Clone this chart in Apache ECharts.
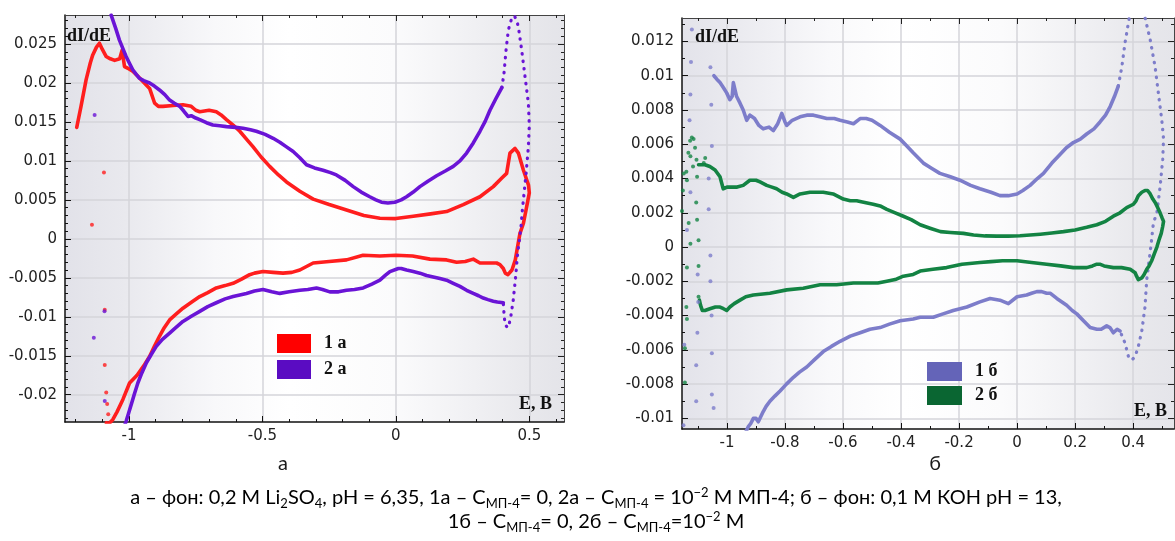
<!DOCTYPE html>
<html>
<head>
<meta charset="utf-8">
<script src="https://cdn.jsdelivr.net/npm/echarts@6/dist/echarts.min.js"></script>
<style>
  html, body { margin: 0; padding: 0; background: #fff; }
  #chart { width: 1175px; height: 541px; }
</style>
</head>
<body>
<div id="chart"></div>
<script>
// ---------- Panel а: background 0.2 M Li2SO4 ----------
const xTicksA = [-1, -0.5, 0, 0.5];
const yTicksA = [-0.02, -0.015, -0.01, -0.005, 0, 0.005, 0.01, 0.015, 0.02, 0.025];

// curve 1а, full loop [E, dI/dE]
const curve1a = [
  [-1.196,0.0143],[-1.18,0.0170],[-1.161,0.0204],[-1.145,0.0226],[-1.136,0.0236],[-1.122,0.0246],[-1.111,0.0251],
  [-1.1,0.0243],[-1.086,0.0234],[-1.07,0.0231],[-1.054,0.0229],[-1.035,0.0231],[-1.026,0.0242],[-1.017,0.0221],
  [-1.0,0.0218],[-0.986,0.0215],[-0.965,0.0208],[-0.948,0.0202],[-0.923,0.0193],[-0.904,0.0174],[-0.89,0.0170],
  [-0.873,0.0170],[-0.835,0.0171],[-0.798,0.0172],[-0.767,0.0170],[-0.75,0.0165],[-0.735,0.0163],[-0.7,0.0165],
  [-0.673,0.0163],[-0.655,0.0159],[-0.635,0.0153],[-0.61,0.0146],[-0.585,0.0138],[-0.56,0.0128],[-0.535,0.0118],
  [-0.505,0.0105],[-0.473,0.0093],[-0.44,0.0082],[-0.41,0.0073],[-0.36,0.0061],[-0.31,0.0051],[-0.25,0.0044],
  [-0.185,0.0037],[-0.12,0.0030],[-0.06,0.00265],[0,0.0026],[0.065,0.0029],[0.13,0.0032],[0.19,0.0035],
  [0.2525,0.0044],[0.315,0.0054],[0.365,0.0067],[0.397,0.0078],[0.415,0.0084],[0.4275,0.0110],[0.4465,0.0116],
  [0.459,0.0110],[0.478,0.0088],[0.497,0.0069],[0.5,0.0059],[0.49,0.0041],[0.478,0.0020],[0.465,0.0007],
  [0.455,-0.0012],[0.4475,-0.0027],[0.435,-0.0040],[0.42,-0.0046],[0.41,-0.0044],[0.4025,-0.0038],
  [0.39,-0.0033],[0.3775,-0.0031],[0.35,-0.0031],[0.315,-0.0031],[0.29,-0.0026],[0.26,-0.0029],[0.2275,-0.0030],
  [0.19,-0.0027],[0.1275,-0.0026],[0.0625,-0.0022],[0,-0.0021],[-0.06,-0.0022],[-0.123,-0.0021],[-0.185,-0.0027],
  [-0.25,-0.0029],[-0.31,-0.0031],[-0.36,-0.0040],[-0.39,-0.0043],[-0.423,-0.0044],[-0.46,-0.0043],[-0.498,-0.0042],
  [-0.53,-0.0044],[-0.548,-0.0046],[-0.58,-0.0052],[-0.61,-0.0057],[-0.64,-0.0060],[-0.673,-0.0063],[-0.705,-0.0069],
  [-0.735,-0.0074],[-0.765,-0.0081],[-0.798,-0.0089],[-0.825,-0.0097],[-0.848,-0.0104],[-0.868,-0.0114],
  [-0.886,-0.0125],[-0.905,-0.0138],[-0.923,-0.0151],[-0.945,-0.0163],[-0.97,-0.0175],[-0.998,-0.0185],
  [-1.023,-0.0206],[-1.045,-0.0222],[-1.061,-0.0232],[-1.075,-0.0237],[-1.085,-0.0236]
];
const dots1a = [
  [-1.078,-0.0225],[-1.082,-0.0212],[-1.0855,-0.0197],[-1.091,-0.0162],[-1.091,-0.0091],[-1.139,0.0018],[-1.094,0.0085]
];

// curve 2а: forward branch, turning region, return branch
const curve2aUp = [
  [-1.067,0.0287],[-1.05,0.0270],[-1.036,0.0255],[-1.023,0.0244],[-1.011,0.0234],[-0.998,0.0225],[-0.986,0.0217],
  [-0.973,0.0211],[-0.961,0.0206],[-0.945,0.0203],[-0.923,0.0200],[-0.905,0.0196],[-0.886,0.0191],[-0.866,0.0185],
  [-0.848,0.0178],[-0.83,0.0174],[-0.81,0.0170],[-0.795,0.0164],[-0.779,0.0157],[-0.772,0.0159],[-0.767,0.0158],
  [-0.75,0.0155],[-0.735,0.0153],[-0.71,0.0149],[-0.686,0.0146],[-0.66,0.0145],[-0.635,0.0144],[-0.6,0.0143],
  [-0.573,0.0142],[-0.545,0.0140],[-0.523,0.0138],[-0.49,0.0134],[-0.46,0.0129],[-0.435,0.0124],[-0.41,0.0118],
  [-0.385,0.0112],[-0.36,0.0104],[-0.335,0.0095],[-0.305,0.0091],[-0.273,0.0088],[-0.245,0.0085],[-0.223,0.0082],
  [-0.19,0.0075],[-0.16,0.0067],[-0.13,0.0060],[-0.098,0.0054],[-0.075,0.0050],[-0.054,0.0047],[-0.03,0.0046],
  [-0.004,0.0047],[0.02,0.0050],[0.04,0.0054],[0.065,0.0060],[0.09,0.0067],[0.12,0.0074],[0.1525,0.0081],
  [0.185,0.0087],[0.215,0.0093],[0.24,0.0100],[0.265,0.0110],[0.29,0.0123],[0.315,0.0138],[0.335,0.0151],
  [0.3525,0.0165],[0.375,0.0180],[0.397,0.0194]
];
const curve2aTurn = [
  [0.397,0.0194],[0.405,0.0212],[0.4128,0.0242],[0.4215,0.0268],[0.434,0.0283],[0.444,0.0286],[0.452,0.0281],
  [0.459,0.0272],[0.4715,0.0242],[0.484,0.0208],[0.4965,0.0174],[0.5,0.0146],[0.4965,0.0118],[0.488,0.0084],
  [0.482,0.0064],[0.474,0.0037],[0.468,0.0012],[0.463,-0.0001],[0.455,-0.0023],[0.449,-0.0048],[0.44,-0.0078],
  [0.4305,-0.0100],[0.424,-0.0110],[0.419,-0.0114],[0.412,-0.0113],[0.409,-0.0110],[0.405,-0.0095],[0.4025,-0.0082]
];
const curve2aDown = [
  [0.4025,-0.0082],[0.397,-0.0080],[0.38,-0.0081],[0.365,-0.0080],[0.345,-0.0078],[0.3275,-0.0076],[0.31,-0.0073],
  [0.29,-0.0070],[0.265,-0.0066],[0.24,-0.0061],[0.215,-0.0057],[0.19,-0.0053],[0.165,-0.0051],[0.14,-0.0049],
  [0.115,-0.0047],[0.09,-0.0044],[0.065,-0.0042],[0.04,-0.0040],[0.02,-0.0038],[0.009,-0.0038],[-0.0225,-0.0042],
  [-0.04,-0.0047],[-0.06,-0.0053],[-0.09,-0.0058],[-0.1225,-0.0063],[-0.155,-0.0065],[-0.185,-0.0066],
  [-0.215,-0.0068],[-0.2475,-0.0068],[-0.275,-0.0065],[-0.2975,-0.0063],[-0.33,-0.0065],[-0.36,-0.0066],
  [-0.4,-0.0068],[-0.435,-0.0070],[-0.465,-0.0068],[-0.498,-0.0065],[-0.53,-0.0067],[-0.56,-0.0070],[-0.61,-0.0074],
  [-0.64,-0.0077],[-0.673,-0.0082],[-0.705,-0.0087],[-0.735,-0.0093],[-0.765,-0.0099],[-0.798,-0.0106],
  [-0.825,-0.0114],[-0.848,-0.0121],[-0.875,-0.0129],[-0.898,-0.0138],[-0.918,-0.0149],[-0.935,-0.0159],
  [-0.952,-0.0172],[-0.967,-0.0185],[-0.98,-0.0199],[-0.992,-0.0213],[-1.002,-0.0224],[-1.011,-0.0234],[-1.02,-0.0243]
];
const dots2a = [[-1.129,0.0159],[-1.132,-0.0127],[-1.092,-0.0093],[-1.091,-0.0208]];

// ---------- Panel б: background 0.1 M KOH ----------
const xTicksB = [-1, -0.8, -0.6, -0.4, -0.2, 0, 0.2, 0.4];
const yTicksB = [-0.01, -0.008, -0.006, -0.004, -0.002, 0, 0.002, 0.004, 0.006, 0.008, 0.01, 0.012];

const curve1bUp = [
  [-1.045,0.0100],[-1.035,0.0098],[-1.024,0.0096],[-1.012,0.0093],[-1.001,0.0090],[-0.99,0.0086],[-0.982,0.0088],
  [-0.978,0.0096],[-0.967,0.0088],[-0.955,0.0084],[-0.944,0.0080],[-0.932,0.0074],[-0.921,0.0077],[-0.905,0.0075],
  [-0.89,0.0071],[-0.875,0.0069],[-0.855,0.0070],[-0.84,0.0068],[-0.825,0.0072],[-0.811,0.0078],[-0.8,0.0073],
  [-0.794,0.0071],[-0.775,0.0074],[-0.748,0.0076],[-0.725,0.0077],[-0.702,0.0077],[-0.68,0.0076],[-0.656,0.0075],
  [-0.63,0.0075],[-0.61,0.0074],[-0.585,0.0073],[-0.564,0.0072],[-0.541,0.0075],[-0.52,0.0075],[-0.5,0.0074],
  [-0.472,0.0071],[-0.44,0.0067],[-0.403,0.0063],[-0.38,0.0059],[-0.358,0.0055],[-0.323,0.0049],[-0.295,0.0046],
  [-0.266,0.0043],[-0.23,0.0041],[-0.197,0.0039],[-0.16,0.0036],[-0.128,0.0034],[-0.09,0.0032],[-0.059,0.0030],
  [-0.03,0.0030],[0,0.0031],[0.02,0.0033],[0.045,0.0036],[0.07,0.0040],[0.091,0.0043],[0.12,0.0049],[0.148,0.0054],
  [0.17,0.0058],[0.194,0.0061],[0.218,0.0063],[0.24,0.0066],[0.265,0.0069],[0.286,0.0073],[0.305,0.0077],
  [0.321,0.0082],[0.336,0.0088],[0.349,0.0094]
];
const curve1bTurn = [
  [0.349,0.0094],[0.361,0.0105],[0.372,0.0119],[0.384,0.0131],[0.395,0.0142],[0.412,0.0150],[0.43,0.0143],
  [0.441,0.0134],[0.459,0.0121],[0.476,0.0105],[0.487,0.0090],[0.499,0.0074],[0.505,0.0063],[0.502,0.0051],
  [0.493,0.0035],[0.482,0.0020],[0.47,0.0014],[0.461,0.0000],[0.447,-0.0019],[0.441,-0.0035],[0.43,-0.0049],
  [0.418,-0.0058],[0.407,-0.0064],[0.395,-0.0066],[0.384,-0.0064],[0.372,-0.0056],[0.355,-0.0049]
];
const curve1bDown = [
  [0.355,-0.0049],[0.345,-0.0048],[0.332,-0.0050],[0.32,-0.0047],[0.309,-0.0046],[0.29,-0.0048],[0.275,-0.0048],
  [0.252,-0.0047],[0.229,-0.0043],[0.206,-0.0039],[0.19,-0.0037],[0.171,-0.0034],[0.137,-0.0030],[0.115,-0.0027],
  [0.102,-0.0027],[0.085,-0.0026],[0.068,-0.0026],[0.05,-0.0027],[0.033,-0.0028],[0,-0.0029],[-0.03,-0.0033],
  [-0.059,-0.0031],[-0.093,-0.0030],[-0.128,-0.0032],[-0.173,-0.0035],[-0.22,-0.0037],[-0.255,-0.0039],
  [-0.289,-0.0041],[-0.334,-0.0041],[-0.358,-0.0042],[-0.403,-0.0043],[-0.44,-0.0045],[-0.472,-0.0047],
  [-0.507,-0.0048],[-0.541,-0.0050],[-0.575,-0.0052],[-0.61,-0.0055],[-0.64,-0.0058],[-0.668,-0.0061],[-0.7,-0.0066],
  [-0.725,-0.0070],[-0.75,-0.0073],[-0.771,-0.0076],[-0.795,-0.0080],[-0.817,-0.0084],[-0.835,-0.0087],
  [-0.852,-0.0090],[-0.865,-0.0093],[-0.875,-0.0096],[-0.892,-0.0102],[-0.9,-0.0100],[-0.909,-0.0100],
  [-0.918,-0.0103],[-0.927,-0.0105],[-0.935,-0.0108]
];
const dots1b = [
  [-1.121,0.0127],[-1.124,0.0108],[-1.126,0.0089],[-1.129,0.0074],[-1.057,0.0105],[-1.054,0.0083],[-1.052,0.0059],
  [-1.126,0.0032],[-1.063,0.0040],[-1.063,0.0022],[-1.138,0.0010],[-1.057,-0.0005],[-1.101,-0.0016],[-1.057,-0.0020],
  [-1.099,-0.0032],[-1.053,-0.0040],[-1.102,-0.0050],[-1.147,-0.0057],[-1.052,-0.0062],[-1.106,-0.0069],
  [-1.052,-0.0086],[-1.106,-0.0090],[-1.046,-0.0094],[-1.15,-0.0104]
];

const curve2b = [
  [-1.098,0.0048],[-1.085,0.0048],[-1.076,0.0048],[-1.059,0.0047],[-1.041,0.0045],[-1.024,0.0041],[-1.013,0.0034],
  [-1.0,0.0035],[-0.99,0.0035],[-0.965,0.0035],[-0.944,0.0036],[-0.921,0.0039],[-0.9,0.0039],[-0.886,0.0038],
  [-0.863,0.0036],[-0.845,0.0035],[-0.829,0.0034],[-0.81,0.0032],[-0.794,0.0031],[-0.771,0.0029],[-0.748,0.0031],
  [-0.714,0.0032],[-0.69,0.0032],[-0.668,0.0032],[-0.634,0.0031],[-0.599,0.0028],[-0.575,0.0027],[-0.553,0.0027],
  [-0.525,0.0026],[-0.496,0.0025],[-0.472,0.0024],[-0.449,0.0022],[-0.42,0.0020],[-0.392,0.0018],[-0.365,0.0016],
  [-0.334,0.0013],[-0.3,0.0011],[-0.264,0.0009],[-0.23,0.00085],[-0.185,0.0008],[-0.15,0.0007],[-0.11,0.00065],
  [-0.07,0.00064],[-0.03,0.00064],[0.01,0.00066],[0.045,0.0007],[0.08,0.00075],[0.12,0.00082],[0.16,0.0009],
  [0.2,0.0010],[0.24,0.00115],[0.275,0.0013],[0.305,0.0015],[0.332,0.0018],[0.355,0.0020],[0.378,0.0023],
  [0.401,0.0025],[0.41,0.0027],[0.418,0.0030],[0.43,0.0032],[0.441,0.0033],[0.45,0.0033],[0.459,0.0031],
  [0.468,0.0028],[0.476,0.0026],[0.485,0.0023],[0.493,0.0020],[0.5,0.0017],[0.505,0.0015],[0.502,0.0012],
  [0.497,0.0008],[0.489,0.0004],[0.482,0.0000],[0.473,-0.0004],[0.464,-0.0008],[0.455,-0.0011],[0.447,-0.0013],
  [0.438,-0.0016],[0.43,-0.0018],[0.424,-0.0019],[0.418,-0.0019],[0.412,-0.0017],[0.407,-0.0015],[0.39,-0.0013],
  [0.36,-0.0012],[0.332,-0.0012],[0.3,-0.0011],[0.285,-0.0010],[0.275,-0.0010],[0.26,-0.0011],[0.24,-0.0012],
  [0.194,-0.0012],[0.15,-0.0011],[0.102,-0.0010],[0.05,-0.0009],[0,-0.0008],[-0.05,-0.0008],[-0.09,-0.00085],
  [-0.128,-0.0009],[-0.19,-0.0010],[-0.243,-0.0012],[-0.29,-0.0013],[-0.334,-0.0014],[-0.358,-0.0016],
  [-0.392,-0.0017],[-0.42,-0.0019],[-0.449,-0.0020],[-0.48,-0.0021],[-0.507,-0.0021],[-0.564,-0.0021],
  [-0.622,-0.0022],[-0.679,-0.0022],[-0.737,-0.0024],[-0.794,-0.0025],[-0.852,-0.0027],[-0.909,-0.0028],
  [-0.935,-0.0029],[-0.955,-0.0031],[-0.975,-0.0033],[-0.99,-0.0035],[-1.001,-0.0037],[-1.012,-0.0036],
  [-1.024,-0.0035],[-1.04,-0.0035],[-1.059,-0.0036],[-1.076,-0.0037],[-1.085,-0.0037],[-1.091,-0.0034],[-1.095,-0.0031]
];
const dots2b = [
  [-1.14,0.0044],[-1.133,0.0055],[-1.127,0.0062],[-1.121,0.0064],[-1.115,0.0063],[-1.11,0.0058],[-1.105,0.0051],
  [-1.126,0.0053],[-1.117,0.0047],[-1.149,0.0043],[-1.138,0.0039],[-1.103,0.0041],[-1.075,0.0052],[-1.08,0.0049],
  [-1.152,0.0033],[-1.106,0.0026],[-1.155,0.0021],[-1.132,0.0014],[-1.103,0.0016],[-1.126,0.0002],[-1.098,0.0004],
  [-1.138,-0.0012],[-1.098,-0.0011],[-1.14,-0.0035],[-1.098,-0.0029],[-1.138,-0.0042],[-1.145,-0.0059],[-1.145,-0.0079]
];

// ---------- styling ----------
const RED = '#ff1e1e', PURPLE = '#6a14d6', LAV = '#7d7dca', GREEN = '#138343';
const LABEL_FONT = 'DejaVu Sans';
const SERIF = 'Liberation Serif';
const CAPTION_FONT = 'Lato';

function steps(from, to, step) {
  const out = [];
  const n = Math.round((to - from) / step);
  for (let i = 0; i <= n; i++) out.push(+(from + i * step).toFixed(6));
  return out;
}

function xAxesFor(gi, min, max, major, minor) {
  const base = { type: 'value', gridIndex: gi, min: min, max: max, splitLine: { show: false }, axisLabel: { show: false } };
  return [
    Object.assign({}, base, {
      position: 'bottom',
      axisLine: { show: true, onZero: false, lineStyle: { color: '#111', width: 1.5 } },
      axisTick: { show: true, inside: true, length: 6, customValues: major, lineStyle: { color: '#111' } },
      axisLabel: { show: true, customValues: major, formatter: v => String(v), margin: 7,
                   fontFamily: LABEL_FONT, fontSize: 15, color: '#222' },
      splitLine: { show: true, lineStyle: { color: '#d5d5da', width: 1.5 } }
    }),
    Object.assign({}, base, {
      position: 'bottom',
      axisLine: { show: false, onZero: false },
      axisTick: { show: true, inside: true, length: 3, customValues: minor, lineStyle: { color: '#111' } }
    }),
    Object.assign({}, base, {
      position: 'top',
      axisLine: { show: true, onZero: false, lineStyle: { color: '#444', width: 1 } },
      axisTick: { show: true, inside: true, length: 6, customValues: major, lineStyle: { color: '#222' } }
    }),
    Object.assign({}, base, {
      position: 'top',
      axisLine: { show: false, onZero: false },
      axisTick: { show: true, inside: true, length: 3, customValues: minor, lineStyle: { color: '#222' } }
    })
  ];
}

function yAxesFor(gi, min, max, major, minor) {
  const base = { type: 'value', gridIndex: gi, min: min, max: max, splitLine: { show: false }, axisLabel: { show: false } };
  return [
    Object.assign({}, base, {
      position: 'left',
      axisLine: { show: true, onZero: false, lineStyle: { color: '#111', width: 1.5 } },
      axisTick: { show: true, inside: true, length: 6, customValues: major, lineStyle: { color: '#111' } },
      axisLabel: { show: true, customValues: major, formatter: v => String(v), margin: 8,
                   fontFamily: LABEL_FONT, fontSize: 15, color: '#222' },
      splitLine: { show: true, lineStyle: { color: '#d5d5da', width: 1.5 } }
    }),
    Object.assign({}, base, {
      position: 'left',
      axisLine: { show: false, onZero: false },
      axisTick: { show: true, inside: true, length: 3, customValues: minor, lineStyle: { color: '#111' } }
    }),
    Object.assign({}, base, {
      position: 'right',
      axisLine: { show: true, onZero: false, lineStyle: { color: '#444', width: 1 } },
      axisTick: { show: true, inside: true, length: 6, customValues: major, lineStyle: { color: '#222' } }
    }),
    Object.assign({}, base, {
      position: 'right',
      axisLine: { show: false, onZero: false },
      axisTick: { show: true, inside: true, length: 3, customValues: minor, lineStyle: { color: '#222' } }
    })
  ];
}

function bg(stops) {
  return { type: 'linear', x: 0, y: 0, x2: 1, y2: 0,
           colorStops: stops.map(s => ({ offset: s[0], color: s[1] })) };
}

function solid(name, data, color, xi) {
  return { type: 'line', name: name, data: data, xAxisIndex: xi, yAxisIndex: xi, color: color,
           showSymbol: false, symbol: 'none', silent: true, z: 3,
           lineStyle: { color: color, width: 3.6, cap: 'round', join: 'round' } };
}
function dotted(name, data, color, xi) {
  return { type: 'line', name: name, data: data, xAxisIndex: xi, yAxisIndex: xi, color: color,
           showSymbol: false, symbol: 'none', silent: true, z: 3,
           lineStyle: { color: color, width: 3.2, type: [0.5, 7], cap: 'round' } };
}
function dots(name, data, color, xi) {
  return { type: 'scatter', name: name, data: data, xAxisIndex: xi, yAxisIndex: xi, color: color,
           symbolSize: 4, silent: true, z: 3, itemStyle: { color: color } };
}

const legendText = { fontFamily: SERIF, fontWeight: 'bold', fontSize: 18, color: '#111', padding: [0, 0, 0, 8] };

const subStyle = { fontFamily: CAPTION_FONT, fontSize: 13, lineHeight: 3, verticalAlign: 'bottom', color: '#1a1a1a' };
const supStyle = { fontFamily: CAPTION_FONT, fontSize: 13, lineHeight: 16, verticalAlign: 'top', color: '#1a1a1a' };
const mainStyle = { fontFamily: CAPTION_FONT, fontSize: 20, lineHeight: 24, color: '#1a1a1a' };

const chart = echarts.init(document.getElementById('chart'), null, { renderer: 'canvas' });

chart.setOption({
  animation: false,
  backgroundColor: '#ffffff',
  grid: [
    { left: 65, top: 15, width: 499, height: 407, show: true, borderWidth: 0,
      backgroundColor: bg([[0, '#e2e2e9'], [0.12, '#e9e9ee'], [0.3, '#f8f8fa'], [0.45, '#ffffff'],
                           [0.66, '#fbfbfc'], [0.82, '#f0f0f3'], [0.93, '#e8e8ec'], [1, '#e4e4e9']]) },
    { left: 682, top: 18, width: 492, height: 411, show: true, borderWidth: 0,
      backgroundColor: bg([[0, '#e3e3ea'], [0.12, '#ebebf0'], [0.3, '#f9f9fb'], [0.45, '#ffffff'],
                           [0.65, '#fbfbfc'], [0.82, '#f0f0f3'], [0.93, '#e8e8ec'], [1, '#e5e5ea']]) }
  ],
  xAxis: [].concat(
    xAxesFor(0, -1.24, 0.63, xTicksA, steps(-1.2, 0.6, 0.1)),
    xAxesFor(1, -1.155, 0.541, xTicksB, steps(-1.1, 0.5, 0.1))
  ),
  yAxis: [].concat(
    yAxesFor(0, -0.0235, 0.02872, yTicksA, steps(-0.023, 0.028, 0.001)),
    yAxesFor(1, -0.01062, 0.01337, yTicksB, steps(-0.010, 0.013, 0.001))
  ),
  legend: [
    { data: [{ name: '1 а', itemStyle: { color: '#ff0000', borderWidth: 0 } },
             { name: '2 а', itemStyle: { color: '#5a0cc2', borderWidth: 0 } }],
      left: 277, top: 334, padding: 0, orient: 'vertical', icon: 'rect',
      itemWidth: 34, itemHeight: 19, itemGap: 7, selectedMode: false, textStyle: legendText },
    { data: [{ name: '1 б', itemStyle: { color: '#6464b8', borderWidth: 0 } },
             { name: '2 б', itemStyle: { color: '#0a6632', borderWidth: 0 } }],
      left: 927, top: 362, padding: 0, orient: 'vertical', icon: 'rect',
      itemWidth: 35, itemHeight: 19, itemGap: 5, selectedMode: false, textStyle: legendText }
  ],
  series: [
    solid('1 а', curve1a, RED, 0),
    dots('1 а', dots1a, RED, 0),
    solid('2 а', curve2aUp, PURPLE, 0),
    dotted('2 а', curve2aTurn, PURPLE, 0),
    solid('2 а', curve2aDown, PURPLE, 0),
    dots('2 а', dots2a, PURPLE, 0),
    solid('1 б', curve1bUp, LAV, 4),
    dotted('1 б', curve1bTurn, LAV, 4),
    solid('1 б', curve1bDown, LAV, 4),
    dots('1 б', dots1b, LAV, 4),
    solid('2 б', curve2b, GREEN, 4),
    dots('2 б', dots2b, GREEN, 4)
  ],
  graphic: [
    { type: 'text', x: 67, y: 36, z: 10, style: { text: 'dI/dE', fontFamily: SERIF, fontWeight: 'bold', fontSize: 18, fill: '#111', verticalAlign: 'middle' } },
    { type: 'text', x: 552, y: 404, z: 10, style: { text: 'E, B', fontFamily: SERIF, fontWeight: 'bold', fontSize: 18, fill: '#111', align: 'right', verticalAlign: 'middle' } },
    { type: 'text', x: 695, y: 37, z: 10, style: { text: 'dI/dE', fontFamily: SERIF, fontWeight: 'bold', fontSize: 18, fill: '#111', verticalAlign: 'middle' } },
    { type: 'text', x: 1167, y: 411, z: 10, style: { text: 'E, B', fontFamily: SERIF, fontWeight: 'bold', fontSize: 18, fill: '#111', align: 'right', verticalAlign: 'middle' } },
    { type: 'text', x: 283, y: 464, style: { text: 'а', fontFamily: CAPTION_FONT, fontSize: 20, fill: '#1a1a1a', align: 'center', verticalAlign: 'middle' } },
    { type: 'text', x: 935, y: 464, style: { text: 'б', fontFamily: CAPTION_FONT, fontSize: 20, fill: '#1a1a1a', align: 'center', verticalAlign: 'middle' } },
    { type: 'text', x: 596, y: 498, style: {
        text: '{n|а – фон: 0,2 М Li}{s|2}{n|SO}{s|4}{n|, pH = 6,35, 1а – С}{s|МП-4}{n|= 0, 2а – С}{s|МП-4}{n| = 10}{p|−2}{n| М МП-4; б – фон: 0,1 М КОН pH = 13,}',
        align: 'center', verticalAlign: 'middle', fontFamily: CAPTION_FONT, fontSize: 20,
        rich: { n: mainStyle, s: subStyle, p: supStyle } } },
    { type: 'text', x: 596, y: 522, style: {
        text: '{n|1б – С}{s|МП-4}{n|= 0, 2б – С}{s|МП-4}{n|=10}{p|−2}{n| М}',
        align: 'center', verticalAlign: 'middle', fontFamily: CAPTION_FONT, fontSize: 20,
        rich: { n: mainStyle, s: subStyle, p: supStyle } } }
  ]
});
</script>
</body>
</html>
